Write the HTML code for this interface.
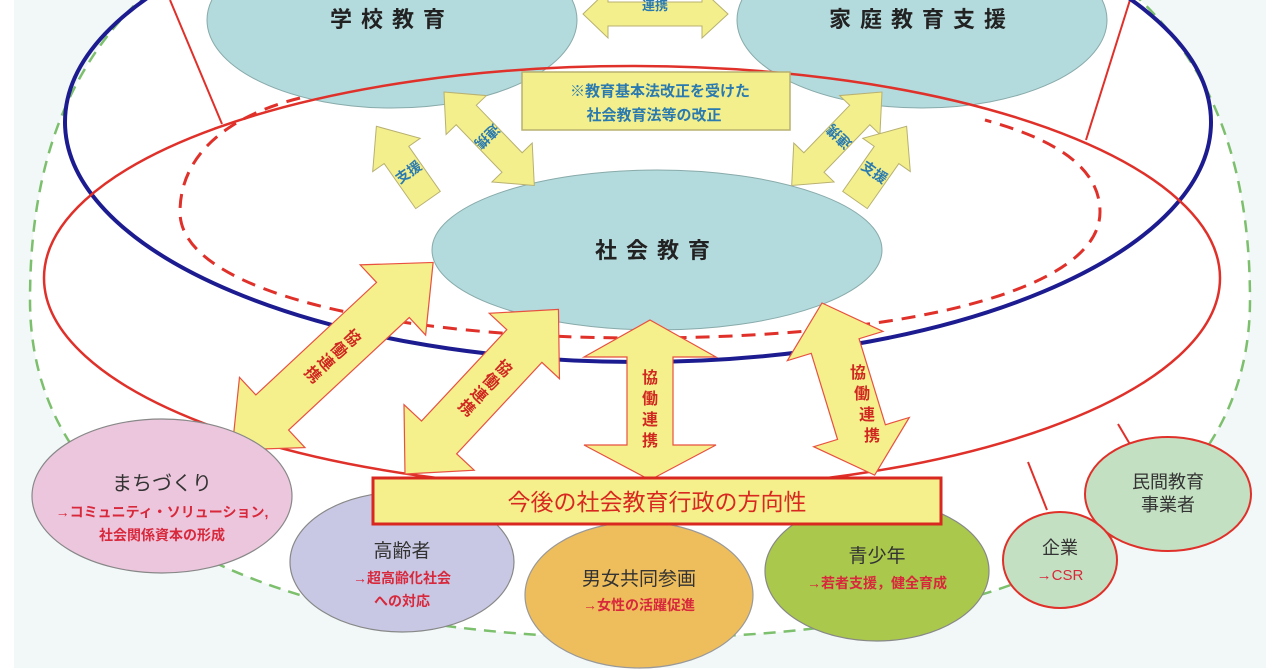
<!DOCTYPE html>
<html><head><meta charset="utf-8">
<style>
html,body{margin:0;padding:0;background:#fff;}
svg{display:block;}
text{font-family:"Liberation Sans","Noto Sans CJK JP",sans-serif;}
</style></head>
<body>
<svg width="1280" height="670" viewBox="0 0 1280 670" xmlns="http://www.w3.org/2000/svg">
<rect x="14" y="0" width="1252" height="668" fill="#f2f8f8"/>
<!-- green dashed outer -->
<path d="M640 -140 C160 -140 30 50 30 300 C30 540 300 638 640 638 C980 638 1250 540 1250 300 C1250 50 1120 -140 640 -140 Z" fill="#fff" stroke="#7cbf6c" stroke-width="2.5" stroke-dasharray="12 8"/>
<!-- red radial lines -->
<line x1="170" y1="0" x2="222" y2="124" stroke="#e0302a" stroke-width="2"/>
<line x1="1130" y1="0" x2="1086" y2="140" stroke="#e0302a" stroke-width="2"/>
<line x1="1028" y1="462" x2="1047" y2="510" stroke="#e0302a" stroke-width="2"/>
<line x1="1118" y1="424" x2="1131" y2="446" stroke="#e0302a" stroke-width="2"/>
<!-- red dashed -->
<path d="M300 98 C220 118 180 160 180 212 C180 292 390 338 640 338 C900 338 1100 292 1100 212 C1100 165 1050 138 985 120" fill="none" stroke="#e0302a" stroke-width="3" stroke-dasharray="14 9"/>
<!-- teal top ellipses -->
<ellipse cx="392" cy="20" rx="185" ry="88" fill="#b3dadc" stroke="#8aa" stroke-width="1"/>
<ellipse cx="922" cy="20" rx="185" ry="88" fill="#b3dadc" stroke="#8aa" stroke-width="1"/>
<!-- blue ellipse -->
<ellipse cx="638" cy="122" rx="573" ry="240" fill="none" stroke="#1c1c90" stroke-width="4"/>
<!-- red ellipse -->
<ellipse cx="632" cy="278" rx="588" ry="212" fill="none" stroke="#e0302a" stroke-width="2.5"/>
<!-- social education -->
<ellipse cx="657" cy="250" rx="225" ry="80" fill="#b3dadc" stroke="#8aa" stroke-width="1"/>
<text x="657" y="258" font-size="22" font-weight="bold" fill="#222" text-anchor="middle" letter-spacing="9">社会教育</text>
<text x="392" y="27" font-size="22" font-weight="bold" fill="#222" text-anchor="middle" letter-spacing="9">学校教育</text>
<text x="922" y="27" font-size="22" font-weight="bold" fill="#222" text-anchor="middle" letter-spacing="9">家庭教育支援</text>

<!-- top 連携 arrow -->
<polygon points="583,14 608,-10 608,2 702,2 702,-10 728,14 702,38 702,26 608,26 608,38" fill="#f3ef8c" stroke="#b8b070" stroke-width="1"/>
<text x="655" y="10" font-size="13" font-weight="bold" fill="#2a7ab0" text-anchor="middle">連携</text>

<!-- note box -->
<rect x="522" y="72" width="268" height="58" fill="#f3ef8c" stroke="#b8b070" stroke-width="1.5"/>
<text x="660" y="96" font-size="15" font-weight="bold" fill="#2a7ab0" text-anchor="middle">※教育基本法改正を受けた</text>
<text x="654" y="120" font-size="15" font-weight="bold" fill="#2a7ab0" text-anchor="middle">社会教育法等の改正</text>

<!-- small arrows -->
<g transform="translate(428,200) rotate(-125)">
<polygon points="0,-15 55,-15 55,-29 90,0 55,29 55,15 0,15" fill="#f3ef8c" stroke="#b8b070"/>
<text transform="translate(34,0) rotate(90)" font-size="14" font-weight="bold" fill="#2a7ab0" text-anchor="middle" dy="5">支援</text>
</g>
<g transform="translate(444,92) rotate(46)">
<polygon points="0,0 32,-28 32,-14 98,-14 98,-28 130,0 98,28 98,14 32,14 32,28" fill="#f3ef8c" stroke="#b8b070"/>
<text transform="translate(62,0) rotate(90)" font-size="14" font-weight="bold" fill="#2a7ab0" text-anchor="middle" dy="5">連携</text>
</g>
<g transform="translate(882,92) rotate(134)">
<polygon points="0,0 32,-28 32,-14 98,-14 98,-28 130,0 98,28 98,14 32,14 32,28" fill="#f3ef8c" stroke="#b8b070"/>
<text transform="translate(62,0) rotate(90)" font-size="14" font-weight="bold" fill="#2a7ab0" text-anchor="middle" dy="5">連携</text>
</g>
<g transform="translate(855,200) rotate(-55)">
<polygon points="0,-15 55,-15 55,-29 90,0 55,29 55,15 0,15" fill="#f3ef8c" stroke="#b8b070"/>
<text transform="translate(34,0) rotate(90)" font-size="14" font-weight="bold" fill="#2a7ab0" text-anchor="middle" dy="5">支援</text>
</g>

<!-- big 協働連携 arrows -->
<g transform="translate(232,450) rotate(-43)">
<polygon points="0,0 55,-48 55,-24 220,-24 220,-48 275,0 220,48 220,24 55,24 55,48" fill="#f5f08c" stroke="#e85040" stroke-width="1.2"/>
<g font-size="16" font-weight="bold" fill="#d02820" text-anchor="middle">
<text transform="translate(165,0) rotate(90)" dy="6">協</text>
<text transform="translate(147,0) rotate(90)" dy="6">働</text>
<text transform="translate(129,0) rotate(90)" dy="6">連</text>
<text transform="translate(111,0) rotate(90)" dy="6">携</text>
</g></g>
<g transform="translate(405,474) rotate(-47)">
<polygon points="0,0 50,-48 50,-24 175,-24 175,-48 225,0 175,48 175,24 50,24 50,48" fill="#f5f08c" stroke="#e85040" stroke-width="1.2"/>
<g font-size="16" font-weight="bold" fill="#d02820" text-anchor="middle">
<text transform="translate(145,0) rotate(90)" dy="6">協</text>
<text transform="translate(127,0) rotate(90)" dy="6">働</text>
<text transform="translate(109,0) rotate(90)" dy="6">連</text>
<text transform="translate(91,0) rotate(90)" dy="6">携</text>
</g></g>
<polygon points="650,320 716,357 673,357 673,445 716,445 650,480 584,445 627,445 627,357 584,357" fill="#f5f08c" stroke="#e85040" stroke-width="1.2"/>
<g font-size="16" font-weight="bold" fill="#d02820" text-anchor="middle">
<text x="650" y="383">協</text><text x="650" y="404">働</text><text x="650" y="425">連</text><text x="650" y="446">携</text>
</g>
<g transform="translate(822,303) rotate(73)">
<polygon points="0,0 45,-50 45,-25 135,-25 135,-50 180,0 135,50 135,25 45,25 45,50" fill="#f5f08c" stroke="#e85040" stroke-width="1.2"/>
</g>
<g font-size="16" font-weight="bold" fill="#d02820" text-anchor="middle">
<text x="858" y="378">協</text><text x="862" y="399">働</text><text x="867" y="420">連</text><text x="872" y="441">携</text>
</g>

<!-- bubbles -->
<ellipse cx="162" cy="496" rx="130" ry="77" fill="#ecc6dc" stroke="#888" stroke-width="1.2"/>
<text x="162" y="490" font-size="20" fill="#333" text-anchor="middle">まちづくり</text>
<text x="162" y="517" font-size="14" font-weight="bold" fill="#d8283c" text-anchor="middle">→コミュニティ・ソリューション,</text>
<text x="162" y="540" font-size="14" font-weight="bold" fill="#d8283c" text-anchor="middle">社会関係資本の形成</text>

<ellipse cx="402" cy="562" rx="112" ry="70" fill="#c8c8e4" stroke="#888" stroke-width="1.2"/>
<text x="402" y="557" font-size="19" fill="#333" text-anchor="middle">高齢者</text>
<text x="402" y="583" font-size="14" font-weight="bold" fill="#d8283c" text-anchor="middle">→超高齢化社会</text>
<text x="402" y="606" font-size="14" font-weight="bold" fill="#d8283c" text-anchor="middle">への対応</text>

<ellipse cx="639" cy="595" rx="114" ry="73" fill="#efbe5c" stroke="#999" stroke-width="1.2"/>
<text x="639" y="585" font-size="19" fill="#333" text-anchor="middle">男女共同参画</text>
<text x="639" y="610" font-size="14" font-weight="bold" fill="#d8283c" text-anchor="middle">→女性の活躍促進</text>

<ellipse cx="877" cy="571" rx="112" ry="70" fill="#a9c84c" stroke="#888" stroke-width="1.2"/>
<text x="877" y="562" font-size="19" fill="#333" text-anchor="middle">青少年</text>
<text x="877" y="588" font-size="14" font-weight="bold" fill="#d8283c" text-anchor="middle">→若者支援，健全育成</text>

<ellipse cx="1168" cy="494" rx="83" ry="57" fill="#c4e0c2" stroke="#e0302a" stroke-width="2"/>
<text x="1168" y="488" font-size="18" fill="#333" text-anchor="middle">民間教育</text>
<text x="1168" y="511" font-size="18" fill="#333" text-anchor="middle">事業者</text>

<ellipse cx="1060" cy="560" rx="57" ry="48" fill="#c4e0c2" stroke="#e0302a" stroke-width="2"/>
<text x="1060" y="554" font-size="18" fill="#333" text-anchor="middle">企業</text>
<text x="1060" y="580" font-size="15" fill="#d8283c" text-anchor="middle">→CSR</text>

<!-- label box -->
<rect x="373" y="478" width="568" height="46" fill="#f5f08c" stroke="#d82820" stroke-width="3"/>
<text x="657" y="510" font-size="23" fill="#d82820" text-anchor="middle">今後の社会教育行政の方向性</text>
</svg>
</body></html>
